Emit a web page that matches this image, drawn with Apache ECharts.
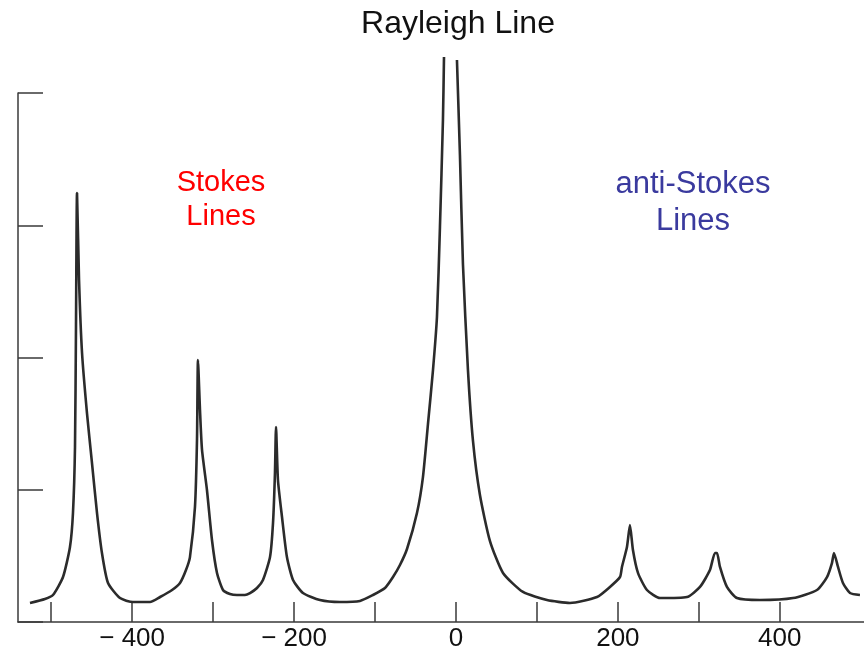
<!DOCTYPE html>
<html>
<head>
<meta charset="utf-8">
<script src="https://cdn.jsdelivr.net/npm/echarts@6/dist/echarts.min.js"></script>
<style>
html,body{margin:0;padding:0;background:#fff;}
#chart{width:864px;height:659px;}
</style>
</head>
<body>
<div id="chart"></div>
<script>
// Raman shift (cm^-1) vs intensity
const shiftValues = [
  -526.2,-507.7,-497.8,-485.4,-476.8,-473.1,-470.6,-469.4,-468.1,-465.6,-461.9,-455.8,-449.6,-443.4,-437.3,-429.8,-415.0,-399.0,
  -377.9,-365.5,-350.7,-340.9,-333.5,-328.6,-322.4,-319.9,-318.7,-316.2,-313.7,-307.6,-301.4,-295.2,-287.8,-279.2,-270.5,
  -260.7,-254.4,-245.8,-238.4,-229.7,-226.0,-223.6,-222.3,-219.9,-214.9,-208.8,-201.3,-189.0,-168.0,-143.3,
  -118.6,-102.5,-87.7,-77.8,-69.2,-60.5,-48.2,-40.8,-34.6,-28.4,-23.5,-19.8,-16.1,-14.8,
  -6.0,
  1.2,4.9,8.6,14.8,21.0,29.6,42.0,58.1,82.8,112.4,140.8,
  174.2,190.2,202.6,205.0,211.2,214.9,218.6,224.8,235.9,252.0,
  285.3,301.4,313.7,319.9,322.4,326.1,334.7,347.1,375.5,
  416.3,445.9,458.3,464.4,466.9,471.9,478.0,486.7,499.0
];
const intensityValues = [
  0.144,0.174,0.204,0.340,0.567,0.824,1.323,2.208,3.244,2.586,2.034,1.580,1.202,0.824,0.522,0.295,0.181,0.151,
  0.151,0.189,0.242,0.295,0.393,0.491,0.870,1.376,1.981,1.603,1.301,0.998,0.620,0.371,0.242,0.212,0.204,
  0.204,0.219,0.257,0.318,0.491,0.749,1.127,1.474,1.074,0.794,0.491,0.318,0.219,0.166,0.151,
  0.159,0.204,0.257,0.340,0.431,0.552,0.824,1.096,1.497,1.905,2.306,2.987,3.796,4.272,
  null,
  4.250,3.531,2.707,1.905,1.369,0.960,0.612,0.371,0.227,0.166,0.144,
  0.189,0.265,0.340,0.416,0.567,0.733,0.544,0.371,0.242,0.181,
  0.189,0.265,0.393,0.522,0.522,0.416,0.265,0.181,0.166,
  0.181,0.242,0.340,0.446,0.522,0.416,0.295,0.219,0.204
];
const xTickValues = [-500,-400,-300,-200,-100,0,100,200,300,400];
const xLabelValues = [-400,-200,0,200,400];
const titleText = 'Rayleigh Line';
const stokesText = ['Stokes','Lines'];
const antiStokesText = ['anti-Stokes','Lines'];

const seriesData = shiftValues.map((x,i)=>[x,intensityValues[i]]);
const axisColor = '#3a3a3a';
const font = 'Liberation Sans, Arial, sans-serif';

const chart = echarts.init(document.getElementById('chart'));
chart.setOption({
  backgroundColor:'#ffffff',
  animation:false,
  grid:{left:18,right:0,top:93,bottom:37,containLabel:false},
  xAxis:{
    type:'value',min:-541,max:504,
    axisLine:{show:true,onZero:false,lineStyle:{color:axisColor,width:1.5}},
    axisTick:{show:true,inside:true,length:20,customValues:xTickValues,lineStyle:{color:axisColor,width:1.5}},
    axisLabel:{show:true,customValues:xLabelValues,margin:4,fontSize:26,color:'#111',fontFamily:font,
      formatter:v=> v<0 ? '\u2212 '+Math.abs(v) : String(v)},
    splitLine:{show:false}
  },
  yAxis:{
    type:'value',min:0,max:4,interval:1,position:'left',
    axisLine:{show:true,onZero:false,lineStyle:{color:axisColor,width:1.5}},
    axisTick:{show:true,inside:true,length:25,lineStyle:{color:axisColor,width:1.5}},
    axisLabel:{show:false},
    splitLine:{show:false}
  },
  series:[{
    type:'line',data:seriesData,showSymbol:false,clip:false,connectNulls:false,
    smooth:0.2,
    lineStyle:{color:'#2b2b2b',width:2.6}
  }],
  graphic:[
    {type:'text',style:{text:titleText,x:458,y:24,textAlign:'center',textVerticalAlign:'middle',fontSize:32,fontFamily:font,fill:'#111'}},
    {type:'text',style:{text:stokesText[0],x:221,y:183,textAlign:'center',textVerticalAlign:'middle',fontSize:29,fontFamily:font,fill:'#ff0000'}},
    {type:'text',style:{text:stokesText[1],x:221,y:217,textAlign:'center',textVerticalAlign:'middle',fontSize:29,fontFamily:font,fill:'#ff0000'}},
    {type:'text',style:{text:antiStokesText[0],x:693,y:184,textAlign:'center',textVerticalAlign:'middle',fontSize:31,fontFamily:font,fill:'#3a3a9e'}},
    {type:'text',style:{text:antiStokesText[1],x:693,y:221,textAlign:'center',textVerticalAlign:'middle',fontSize:31,fontFamily:font,fill:'#3a3a9e'}}
  ]
});
</script>
</body>
</html>
